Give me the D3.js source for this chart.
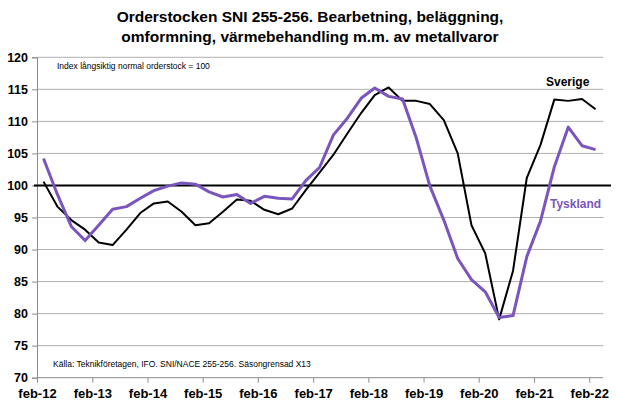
<!DOCTYPE html>
<html>
<head>
  <meta charset='utf-8'>
  <style>
    body { margin: 0; background: #fff; }
    svg { font-family: "Liberation Sans", Arial, sans-serif; }
  </style>
  <script src='https://cdn.jsdelivr.net/npm/d3@7/dist/d3.min.js'></script>
</head>
<body>
  <script>
    let [width, height] = [617, 401]

    // quarterly, Q1 2012 .. Q1 2022
    let quarters = d3.range(41).map(i => new Date(2012, 2 + i * 3, 15))
    let sverige = [100.6, 96.7, 94.6, 93.1, 91.1, 90.7, 93.1, 95.7, 97.2, 97.5,
      95.9, 93.8, 94.1, 95.9, 97.8, 97.6, 96.2, 95.5, 96.4, 99.3,
      102.0, 104.8, 108.1, 111.3, 114.1, 115.3, 113.2, 113.2, 112.7, 110.2,
      105.0, 93.8, 89.4, 79.1, 86.7, 101.2, 106.3, 113.4, 113.2, 113.5, 111.9]
    let tyskland = [104.2, 98.6, 93.6, 91.4, 93.8, 96.3, 96.7, 98.0, 99.2, 99.9,
      100.4, 100.2, 99.0, 98.2, 98.6, 97.2, 98.3, 98.0, 97.9, 100.8,
      102.8, 107.9, 110.5, 113.6, 115.2, 113.9, 113.5, 107.4, 99.9, 94.6,
      88.6, 85.3, 83.4, 79.4, 79.7, 88.9, 94.4, 102.9, 109.1, 106.2, 105.6]
    let xTickLabels = ['feb-12', 'feb-13', 'feb-14', 'feb-15', 'feb-16', 'feb-17',
      'feb-18', 'feb-19', 'feb-20', 'feb-21', 'feb-22']
    let xTickDates = xTickLabels.map((d, i) => new Date(2012 + i, 1, 1))
    let yTicks = [70, 75, 80, 85, 90, 95, 100, 105, 110, 115, 120]
    let titleLines = ['Orderstocken SNI 255-256. Bearbetning, beläggning,',
      'omformning, värmebehandling m.m. av metallvaror']

    let x = d3.scaleTime([new Date(2012, 1, 1), new Date(2022, 4, 5)], [37, 603.3])
    let y = d3.scaleLinear([70, 120], [377.7, 57.3])

    let svg = d3.select('body').append('svg')
      .attr('width', width)
      .attr('height', height)

    svg.append('g')
      .selectAll('text')
      .data(titleLines)
      .join('text')
      .attr('x', 310)
      .attr('y', (d, i) => 22 + i * 20)
      .attr('text-anchor', 'middle')
      .attr('font-size', 15.5)
      .attr('font-weight', 'bold')
      .text(d => d)

    // grid
    svg.append('g')
      .selectAll('line')
      .data(yTicks.filter(d => d > 70))
      .join('line')
      .attr('x1', 37).attr('x2', 603.3)
      .attr('y1', d => y(d)).attr('y2', d => y(d))
      .attr('stroke', '#b0b0b0')

    let yAxis = svg.append('g')
      .attr('transform', 'translate(37,0)')
      .call(d3.axisLeft(y).tickValues(yTicks).tickSize(5).tickPadding(4))
    yAxis.select('.domain').attr('stroke', '#8c8c8c')
    yAxis.selectAll('.tick line').attr('stroke', '#8c8c8c')
    yAxis.selectAll('text').attr('font-size', 12.5).attr('font-weight', 'bold')
      .attr('font-family', '"Liberation Sans", Arial, sans-serif').attr('fill', '#000')

    let xAxis = svg.append('g')
      .attr('transform', `translate(0,${y(70)})`)
      .call(d3.axisBottom(x).tickValues(xTickDates).tickSize(5).tickPadding(6)
        .tickFormat((d, i) => xTickLabels[i]))
    xAxis.select('.domain').attr('stroke', '#8c8c8c').attr('d', `M37,0H603.3`)
    xAxis.selectAll('.tick line').attr('stroke', '#8c8c8c')
    xAxis.selectAll('text').attr('font-size', 13).attr('font-weight', 'bold')
      .attr('font-family', '"Liberation Sans", Arial, sans-serif').attr('fill', '#000')

    // reference line 100
    svg.append('line')
      .attr('x1', 34).attr('x2', 611)
      .attr('y1', y(100)).attr('y2', y(100))
      .attr('stroke', '#000').attr('stroke-width', 2)

    let line = d3.line().x((d, i) => x(quarters[i])).y(d => y(d))

    svg.append('path')
      .datum(sverige)
      .attr('d', line)
      .attr('fill', 'none')
      .attr('stroke', '#000')
      .attr('stroke-width', 2)
      .attr('stroke-linejoin', 'round')

    svg.append('path')
      .datum(tyskland)
      .attr('d', line)
      .attr('fill', 'none')
      .attr('stroke', '#7a55bd')
      .attr('stroke-width', 3)
      .attr('stroke-linejoin', 'round')

    svg.append('text')
      .attr('x', 546).attr('y', 86)
      .attr('font-size', 12).attr('font-weight', 'bold')
      .text('Sverige')

    svg.append('text')
      .attr('x', 550).attr('y', 208)
      .attr('font-size', 12).attr('font-weight', 'bold')
      .attr('fill', '#7a55bd')
      .text('Tyskland')

    svg.append('text')
      .attr('x', 57).attr('y', 69)
      .attr('font-size', 8.5)
      .text('Index långsiktig normal orderstock = 100')

    svg.append('text')
      .attr('x', 53).attr('y', 367)
      .attr('font-size', 8.5)
      .text('Källa: Teknikföretagen, IFO. SNI/NACE 255-256. Säsongrensad X13')
  </script>
</body>
</html>
